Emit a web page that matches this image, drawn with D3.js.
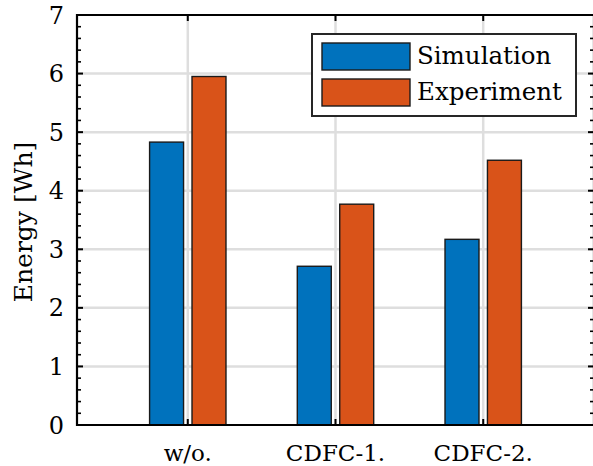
<!DOCTYPE html>
<html><head><meta charset="utf-8">
<script src="https://cdn.jsdelivr.net/npm/d3@7"></script>
<style>
html,body{margin:0;padding:0;background:#fff;}
svg{display:block;}
</style></head>
<body>
<svg id="c" width="593" height="466"></svg>
<script>
const categories = ["w/o.", "CDFC-1.", "CDFC-2."];
const seriesNames = ["Simulation", "Experiment"];
const simulation = [4.83, 2.71, 3.17];
const experiment = [5.95, 3.77, 4.52];
const yTicks = [0, 1, 2, 3, 4, 5, 6, 7];
const colors = ["#0072BD", "#D95319"];
const FONT = "DejaVu Serif";

const svg = d3.select("#c");
const L = 77, R = 594, T = 15, B = 425;
const x = d3.scaleLinear().domain([0.25, 3.75]).range([L, R]);
const y = d3.scaleLinear().domain([0, 7]).range([B, T]);

const g = svg.append("g");
g.selectAll(".hg").data(yTicks.slice(1, -1)).enter().append("line")
  .attr("x1", L).attr("x2", R).attr("y1", d => y(d)).attr("y2", d => y(d))
  .attr("stroke", "#dedede").attr("stroke-width", 2.5);
g.selectAll(".vg").data(categories).enter().append("line")
  .attr("x1", (d, i) => x(i + 1)).attr("x2", (d, i) => x(i + 1)).attr("y1", T).attr("y2", B)
  .attr("stroke", "#dedede").attr("stroke-width", 2.5);

const series = [simulation, experiment];
const off = 0.1436, bw = 0.23;
series.forEach((vals, s) => {
  svg.append("g").selectAll("rect").data(vals).enter().append("rect")
    .attr("x", (d, i) => x(i + 1 + (s === 0 ? -off : off) - bw / 2))
    .attr("width", x(bw) - x(0))
    .attr("y", d => y(d))
    .attr("height", d => y(0) - y(d))
    .attr("fill", colors[s]).attr("stroke", "#1a1a1a").attr("stroke-width", 1.4);
});

const ax = svg.append("g");
const minor = d3.range(0, 7.001, 0.2).filter(v => Math.abs(v - Math.round(v)) > 1e-6);
[[L, 1], [R, -1]].forEach(([px, dir]) => {
  ax.selectAll(null).data(minor).enter().append("line")
    .attr("x1", px).attr("x2", px + dir * 4).attr("y1", d => y(d)).attr("y2", d => y(d))
    .attr("stroke", "#000").attr("stroke-width", 1.6);
  ax.selectAll(null).data(yTicks).enter().append("line")
    .attr("x1", px).attr("x2", px + dir * 6).attr("y1", d => y(d)).attr("y2", d => y(d))
    .attr("stroke", "#000").attr("stroke-width", 2);
});
[[T, 1], [B, -1]].forEach(([py, dir]) => {
  ax.selectAll(null).data(categories).enter().append("line")
    .attr("x1", (d, i) => x(i + 1)).attr("x2", (d, i) => x(i + 1))
    .attr("y1", py).attr("y2", py + dir * 6)
    .attr("stroke", "#000").attr("stroke-width", 2);
});
ax.append("path")
  .attr("d", `M${R},${T}H${L}V${B}H${R}V${T}`)
  .attr("fill", "none").attr("stroke", "#000").attr("stroke-width", 2.2);

svg.append("g").selectAll("text").data(yTicks).enter().append("text")
  .attr("font-family", FONT)
  .attr("x", 64).attr("y", d => y(d)).attr("dy", "0.36em")
  .attr("text-anchor", "end").attr("font-size", 24).text(d => d);
svg.append("g").selectAll("text").data(categories).enter().append("text")
  .attr("font-family", FONT)
  .attr("x", (d, i) => x(i + 1)).attr("y", 461)
  .attr("text-anchor", "middle").attr("font-size", 23).text(d => d);

svg.append("text").attr("font-family", FONT)
  .attr("transform", "translate(32,222) rotate(-90)")
  .attr("text-anchor", "middle").attr("font-size", 25).text("Energy [Wh]");

const lg = svg.append("g");
lg.append("rect").attr("x", 312).attr("y", 34).attr("width", 264).attr("height", 82)
  .attr("fill", "#fff").attr("stroke", "#262626").attr("stroke-width", 2);
seriesNames.forEach((n, s) => {
  const yy = 43 + s * 36;
  lg.append("rect").attr("x", 322).attr("y", yy).attr("width", 88).attr("height", 27)
    .attr("fill", colors[s]).attr("stroke", "#1a1a1a").attr("stroke-width", 1.4);
  lg.append("text").attr("font-family", FONT)
    .attr("x", 417).attr("y", yy + 21).attr("font-size", 24.5).text(n);
});
</script>
</body></html>
